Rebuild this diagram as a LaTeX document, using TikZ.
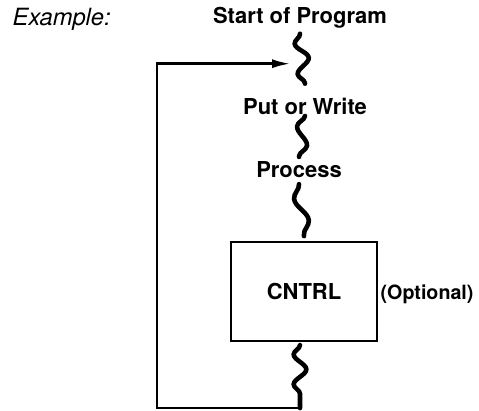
\documentclass[tikz,border=0pt]{standalone}
\usepackage{fontspec}
\setmainfont{TeX Gyre Heros}
\usetikzlibrary{arrows.meta,positioning,calc,decorations.pathmorphing}

\begin{document}
\begin{tikzpicture}[x=0.02cm, y=-0.02cm, thick,
    step label/.style={font=\bfseries\fontsize{12.5}{15}\selectfont, inner sep=0pt, text height=9pt, text depth=0pt},
    squig/.style={line width=2.6pt, line cap=round, decorate, decoration={snake, mirror, amplitude=3.6pt, segment length=#1}},
    squig/.default=0.6cm,
    loopline/.style={line width=1.6pt}]
    \useasboundingbox (0,0) rectangle (479,410);

    % Heading
    \node[anchor=base west, inner sep=0pt, font=\itshape\fontsize{13.5}{16}\selectfont] (example) at (12,25) {Example:};

    % Program steps
    \node[step label, anchor=base] (start) at (300,23) {Start of Program};
    \node[step label, below=1.48cm of start, xshift=0.1cm] (put) {Put or Write};
    \node[step label, below=0.92cm of put, xshift=-0.12cm] (process) {Process};
    \node[draw, line width=1.1pt, minimum width=2.92cm, minimum height=1.98cm, font=\bfseries\fontsize{12.5}{15}\selectfont, below=1.26cm of process, xshift=0.1cm] (cntrl) {CNTRL};
    \node[step label, font=\bfseries\fontsize{11.2}{14}\selectfont, right=0.04cm of cntrl] (optional) {(Optional)};

    % Squiggles between the steps
    \draw[squig=0.61cm] ($(start.south)+(0,10)$) -- ($(put.north)+(0,-14)$);
    \draw[squig=0.72cm] ($(put.south)+(0,1)$) -- ($(process.north)+(0,-4)$);
    \draw[squig=0.91cm] ($(process.south)+(0,6)$) -- ($(cntrl.north)+(0,-5)$);
    \coordinate (back) at ($(cntrl.south)+(-4,66)$);
    \draw[squig=0.6cm] ($(cntrl.south)+(-4,3)$) -- (back);

    % Loop back to the start
    \coordinate (entry) at ($(start.south)+(-9,40)$);
    \draw[loopline, -{Latex[length=0.38cm, width=0.18cm]}] (back) -- ++(-143,0) |- (entry);
\end{tikzpicture}
\end{document}
